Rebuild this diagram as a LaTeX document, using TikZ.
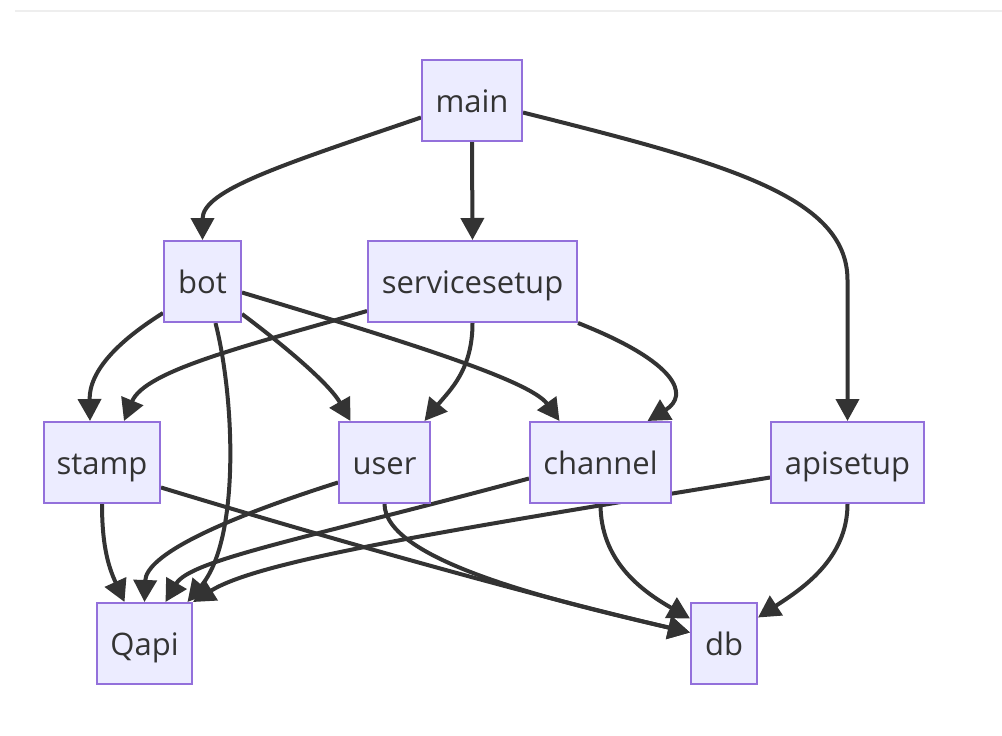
\documentclass[tikz,border=0pt]{standalone}
\usepackage{fontspec}
\setmainfont{Open Sans}
\usetikzlibrary{arrows.meta,calc}
\definecolor{nodefill}{HTML}{ECECFF}
\definecolor{nodeline}{HTML}{9370DB}
\definecolor{edgecol}{HTML}{333333}
\definecolor{rulecol}{HTML}{EEEEEE}
\pgfdeclarelayer{edges}
\pgfsetlayers{edges,main}
\tikzset{
  box/.style={draw=nodeline, fill=nodefill, line width=2pt, rectangle,
    minimum height=81pt, inner sep=0pt, text=edgecol,
    text height=30pt, text depth=7pt,
    font=\fontsize{31}{36}\selectfont},
  conn/.style={draw=edgecol, line width=4pt,
    -{Triangle[length=22pt,width=23pt]}},
}
\begin{document}
\begin{tikzpicture}[x=1pt,y=-1pt]
\useasboundingbox (0,0) rectangle (1002,736);
\node[box, minimum width=100pt] (main) at (472,100.5) {main};
\node[box, minimum width=77pt] (bot) at (202.5,281.5) {bot};
\node[box, minimum width=209pt] (servicesetup) at (472.5,281.5) {servicesetup};
\node[box, minimum width=116pt] (stamp) at (102,462.5) {stamp};
\node[box, minimum width=91pt] (user) at (384.5,462.5) {user};
\node[box, minimum width=141pt] (channel) at (600.5,462.5) {channel};
\node[box, minimum width=153pt] (apisetup) at (847.5,462.5) {apisetup};
\node[box, minimum width=95pt] (Qapi) at (144.5,643.5) {Qapi};
\node[box, minimum width=66pt] (db) at (724,643.5) {db};
\coordinate (ruleL) at (15,10.5);
\coordinate (ruleR) at (1002,10.5);
\begin{pgfonlayer}{edges}
\draw[rulecol, line width=2pt] (ruleL) -- (ruleR);
% main
\draw[conn] ($(main.west)+(0,17)$) .. controls (282,165) and (202.5,190) .. (bot.north);
\draw[conn] (main.south) -- (servicesetup.north);
\draw[conn] ($(main.east)+(0,12)$) .. controls (720,162) and (847.5,195) .. (847.5,280) -- (apisetup.north);
% bot
\draw[conn] ($(bot.south west)+(0,-10)$) .. controls (120,340) and (89,370) .. ($(stamp.north)+(-12,0)$);
\draw[conn] ($(bot.south east)+(0,-9)$) .. controls (290,350) and (330,385) .. ($(user.north)+(-34,0)$);
\draw[conn] ($(bot.east)+(0,11)$) .. controls (400,340) and (530,380) .. ($(channel.north)+(-41,0)$);
\draw[conn] ($(bot.south)+(13,0)$) .. controls (235,400) and (240,540) .. ($(Qapi.north)+(43,0)$);
% servicesetup
\draw[conn] ($(servicesetup.south west)+(0,-12)$) .. controls (250,345) and (145,370) .. ($(stamp.north)+(22,0)$);
\draw[conn] (servicesetup.south) .. controls (472.5,370) and (450,390) .. ($(user.north)+(40,0)$);
\draw[conn] (servicesetup.south east) .. controls (677,362) and (690,395) .. ($(channel.north)+(47,0)$);
% to Qapi
\draw[conn] (stamp.south) .. controls (102,550) and (110,570) .. ($(Qapi.north)+(-20,0)$);
\draw[conn] ($(user.west)+(0,20)$) .. controls (220,520) and (146,555) .. (Qapi.north);
\draw[conn] ($(channel.west)+(0,16)$) .. controls (300,540) and (190,560) .. ($(Qapi.north)+(21,0)$);
\draw[conn] ($(apisetup.west)+(0,15)$) .. controls (450,530) and (260,560) .. (Qapi.north east);
% to db
\draw[conn] ($(stamp.east)+(0,25)$) .. controls (350,545) and (550,600) .. ($(db.west)+(0,-11)$);
\draw[conn] (user.south) .. controls (385,560) and (550,600) .. ($(db.west)+(0,-11)$);
\draw[conn] (channel.south) .. controls (600.5,560) and (640,590) .. ($(db.west)+(0,-25)$);
\draw[conn] (apisetup.south) .. controls (847.5,560) and (800,590) .. ($(db.east)+(0,-26)$);
\end{pgfonlayer}
\end{tikzpicture}
\end{document}
